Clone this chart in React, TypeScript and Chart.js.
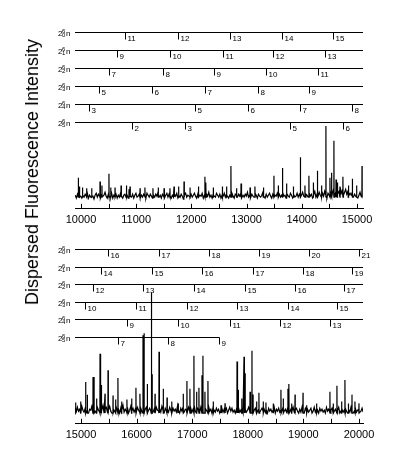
import React, { useEffect, useRef } from 'react';
import { Chart, registerables } from 'chart.js';
Chart.register(...registerables);

const FONT = '"Liberation Sans", Arial, sans-serif';

// ---------- axes ----------
const topRange = [9891, 15109];
const botRange = [14892, 20072];
const topTicks = [10000, 10500, 11000, 11500, 12000, 12500, 13000, 13500, 14000, 14500, 15000];
const botTicks = [15000, 15500, 16000, 16500, 17000, 17500, 18000, 18500, 19000, 19500, 20000];
const yTitle = 'Dispersed Fluorescence Intensity';

// ---------- spectrum (wavenumber / intensity) ----------
const topNoiseStart = 9895;
const topNoiseStep = 20;
const topNoise = [
  2, -1, 3, 0, 4, 1, -1, 2, 0, 3,
  1, 4, -1, 2, 0, 3, 1, -2, 2, 4,
  0, 3, 1, -1, 3, 0, 2, 5, 1, -1,
  3, 1, 0, 4, -1, 2, 1, 3, -1, 2,
  0, 4, 1, -1, 2, 3, 0, 2, -1, 3,
  1, 0, 3, -1, 2, 4, 0, 1, 3, -1,
  2, 0, 3, 1, -1, 4, 2, 0, 3, 1,
  -1, 2, 0, 3, 1, 5, 0, 2, -1, 3,
  1, -1, 2, 4, 0, 3, 1, -1, 2, 0,
  3, 1, 4, -1, 2, 0, 3, 1, -2, 2,
  4, 0, 2, 1, -1, 3, 0, 2, 4, 1,
  -1, 3, 0, 2, 1, 4, -1, 2, 0, 3,
  1, 5, 0, 2, -1, 3, 1, 0, 4, 2,
  0, 3, -1, 2, 1, 4, 0, 3, 1, -1,
  2, 0, 4, 1, -1, 3, 2, 0, 3, 1,
  4, -1, 2, 0, 3, 1, 5, 0, 2, -1,
  3, 1, 0, 4, 2, -1, 3, 1, 0, 2,
  5, 1, -1, 3, 0, 2, 4, 1, -1, 3,
  0, 2, 1, 4, -1, 3, 0, 2, 5, 1,
  2, -1, 3, 1, 0, 4, 2, -1, 3, 0,
  1, 4, 0, 3, -1, 2, 5, 1, 0, 3,
  2, 0, 4, 1, 3, -1, 2, 6, 0, 3,
  1, 5, 2, 0, 4, 1, 6, 2, -1, 4,
  2, 6, 1, 4, 8, 2, 5, 9, 3, 6,
  10, 4, 7, 2, 5, 8, 3, 6, 1, 4,
  2, 5, 0, 3, 1, 4, -1, 2, 5, 1,
  3,
];
const topPeakX = [
  9951, 9973, 10024, 10103, 10194, 10344, 10380, 10507, 10540, 10616, 10725, 10824, 10870, 10888,
  11069, 11159, 11304, 11401, 11504, 11612, 11685, 11766, 11866, 11975, 12126, 12246, 12264,
  12398, 12563, 12639, 12717, 12820, 12899, 13062, 13152, 13303, 13496, 13575, 13650, 13726,
  13846, 13976, 14058, 14130, 14208, 14284, 14360, 14438, 14511, 14541, 14583, 14620, 14643,
  14692, 14746, 14843, 14918, 14994, 15091,
];
const topPeakY = [
  20, 11, 10, 9, 9, 16, 12, 24, 10, 10, 12, 12, 8, 11,
  9, 10, 9, 10, 9, 9, 11, 11, 16, 10, 11, 21, 15,
  10, 11, 11, 32, 9, 14, 10, 11, 10, 22, 12, 30, 14,
  11, 41, 12, 22, 15, 27, 12, 73, 20, 25, 58, 18, 15,
  11, 21, 12, 19, 12, 32,
];

const botNoiseStart = 14895;
const botNoiseStep = 20;
const botNoise = [
  5, 1, 6, 2, 4, 0, 7, 3, 1, 5,
  2, 6, 0, 4, 3, 7, 1, 5, 2, 0,
  6, 3, 1, 5, 2, 8, 0, 4, 6, 1,
  3, 7, 2, 0, 5, 3, 1, 6, 2, 4,
  0, 5, 3, 8, 1, 4, 2, 6, 0, 3,
  7, 2, 5, 1, 4, 0, 6, 3, 1, 5,
  2, 8, 0, 4, 6, 1, 3, 5, 2, 7,
  1, 4, 0, 6, 3, 2, 5, 1, 7, 3,
  0, 5, 2, 4, 1, 6, 3, 0, 5, 2,
  4, 1, 7, 3, 0, 5, 2, 6, 1, 4,
  3, 0, 6, 2, 5, 1, 4, 8, 2, 0,
  5, 3, 1, 6, 2, 4, 0, 5, 3, 1,
  7, 2, 4, 0, 6, 3, 1, 5, 2, 4,
  0, 3, 6, 1, 4, 2, 5, 0, 3, 6,
  2, 5, 1, 3, 0, 4, 2, 6, 1, 3,
  5, 0, 2, 4, 1, 3, 6, 2, 0, 4,
  1, 3, 5, 0, 2, 4, 1, 3, 5, 2,
  4, 1, 3, 0, 5, 2, 4, 1, 3, 6,
  0, 4, 2, 5, 1, 3, 0, 6, 2, 4,
  1, 5, 3, 0, 4, 2, 6, 1, 3, 5,
  2, 0, 4, 1, 6, 3, 0, 5, 2, 4,
  1, 3, 5, 0, 2, 6, 1, 4, 3, 0,
  5, 2, 4, 1, 3, 0, 6, 2, 4, 1,
  3, 5, 0, 2, 4, 1, 3, 6, 0, 2,
  4, 1, 3, 5, 2, 0, 4, 1, 6, 3,
  0, 2, 5, 1, 3, 4, 0, 2, 5, 1,
];
const botPeakX = [
  14905, 14995, 15085, 15114, 15216, 15235, 15282, 15342, 15360, 15432, 15486, 15576, 15624,
  15665, 15731, 15827, 15911, 15989, 16061, 16115, 16135, 16193, 16264, 16280, 16331, 16403,
  16481, 16547, 16631, 16745, 16840, 16906, 16960, 17032, 17081, 17122, 17176, 17194, 17230,
  17284, 17380, 17518, 17590, 17806, 17824, 17890, 17932, 17950, 18040, 18075, 18094, 18160,
  18201, 18279, 18327, 18459, 18597, 18639, 18723, 18741, 18789, 18849, 18993, 19059, 19239,
  19478, 19538, 19604, 19688, 19748, 19808, 19874, 19928, 20000,
];
const botPeakY = [
  11, 12, 32, 19, 37, 37, 15, 61, 29, 20, 44, 18, 14,
  36, 12, 14, 15, 26, 20, 80, 82, 30, 124, 40, 20, 63,
  25, 16, 12, 10, 20, 33, 25, 59, 22, 26, 39, 59, 22,
  33, 12, 8, 10, 53, 24, 15, 58, 41, 22, 64, 19, 12,
  21, 12, 11, 10, 24, 15, 25, 30, 10, 19, 21, 8, 10,
  22, 10, 28, 12, 34, 10, 19, 12, 10,
];

// ---------- progression ladders ----------
const ladderSubs = [0, 1, 2, 3, 4, 5];
const topLadderPos = [
  [10797, 11757, 12699, 13641, 14565],
  [10652, 11612, 12572, 13478, 14420],
  [10507, 11486, 12409, 13351, 14293],
  [10326, 11286, 12246, 13207, 14130],
  [10145, 12065, 13025, 13967, 14909],
  [10924, 11884, 13786, 14746],
];
const topLadderLab = [[11, 12, 13, 14, 15], [9, 10, 11, 12, 13], [7, 8, 9, 10, 11], [5, 6, 7, 8, 9], [3, 5, 6, 7, 8], [2, 3, 5, 6]];
const topLadderEnd = [null, null, null, null, null, null];
const botLadderPos = [
  [15486, 16403, 17302, 18201, 19101, 20000],
  [15360, 16277, 17176, 18094, 18993, 19874],
  [15216, 16115, 17032, 17950, 18849, 19730],
  [15072, 15989, 16906, 17806, 18723, 19604],
  [15827, 16745, 17680, 18579, 19478],
  [15665, 16565, 17482],
];
const botLadderLab = [[16, 17, 18, 19, 20, 21], [14, 15, 16, 17, 18, 19], [12, 13, 14, 15, 16, 17], [10, 11, 12, 13, 14, 15], [9, 10, 11, 12, 13], [7, 8, 9]];
const botLadderEnd = [null, null, null, null, null, 17482];

// stick peaks: each peak rises from the baseline right at its own wavenumber
function buildSeries(start: number, step: number, noise: number[], px: number[], py: number[]) {
  const pts = noise.map((v, i) => ({ x: start + i * step, y: v }));
  px.forEach((x, i) => {
    pts.push({ x: x - 2, y: 0 });
    pts.push({ x, y: py[i] });
    pts.push({ x: x + 2, y: 0 });
  });
  pts.sort((a, b) => a.x - b.x);
  return pts;
}

function makeLadder(pos: number[][], lab: number[][], ends: (number | null)[], firstRow: number, gap: number) {
  return {
    id: 'ladder',
    afterDatasetsDraw(chart: any) {
      const { ctx, chartArea } = chart;
      const xs = chart.scales.x;
      ctx.save();
      ctx.strokeStyle = '#000';
      ctx.fillStyle = '#000';
      ctx.lineWidth = 1;
      ctx.textAlign = 'left';
      ctx.textBaseline = 'alphabetic';
      pos.forEach((row, i) => {
        const y = Math.round(chartArea.top + firstRow + i * gap) + 0.5;
        const x0 = chartArea.left;
        const e = ends[i];
        const x1 = e != null ? Math.round(xs.getPixelForValue(e)) + 0.5 : chartArea.right;
        ctx.beginPath();
        ctx.moveTo(x0, y);
        ctx.lineTo(x1, y);
        ctx.stroke();
        ctx.font = `8px ${FONT}`;
        ctx.fillText('2', x0 - 17, y + 3);
        ctx.fillText('n', x0 - 9, y + 3);
        ctx.font = `6px ${FONT}`;
        ctx.fillText('6', x0 - 13, y);
        ctx.fillText(String(ladderSubs[i]), x0 - 13, y + 4);
        ctx.font = `8px ${FONT}`;
        row.forEach((v, k) => {
          const p = Math.round(xs.getPixelForValue(v)) + 0.5;
          ctx.beginPath();
          ctx.moveTo(p, y);
          ctx.lineTo(p, y + 7);
          ctx.stroke();
          ctx.fillText(String(lab[i][k]), p + 2, y + 8);
        });
      });
      ctx.restore();
    },
  };
}

const innerTicks = {
  id: 'innerTicks',
  afterDraw(chart: any) {
    const { ctx, chartArea } = chart;
    const xs = chart.scales.x;
    ctx.save();
    ctx.strokeStyle = '#000';
    ctx.lineWidth = 1;
    xs.ticks.forEach((t: any) => {
      const p = Math.round(xs.getPixelForValue(t.value)) + 0.5;
      ctx.beginPath();
      ctx.moveTo(p, chartArea.bottom);
      ctx.lineTo(p, chartArea.bottom - 5);
      ctx.stroke();
    });
    ctx.restore();
  },
};

function makeConfig(range: number[], ticks: number[], yMin: number, yMax: number, pad: any, pts: any[], ladder: any): any {
  return {
    type: 'line',
    data: {
      datasets: [
        { data: pts, borderColor: '#000', borderWidth: 1.2, pointRadius: 0, tension: 0, fill: false },
      ],
    },
    options: {
      animation: false,
      responsive: false,
      events: [],
      layout: { padding: pad },
      plugins: { legend: { display: false }, tooltip: { enabled: false } },
      scales: {
        x: {
          type: 'linear',
          min: range[0],
          max: range[1],
          afterBuildTicks: (s: any) => {
            s.ticks = ticks.map((v) => ({ value: v }));
          },
          grid: { display: false, drawTicks: false },
          border: { display: true, color: '#000', width: 1 },
          ticks: {
            autoSkip: false,
            maxRotation: 0,
            padding: 5,
            color: '#000',
            font: { family: FONT, size: 11 },
            callback: (v: number) => (v % 1000 === 0 ? String(v) : ''),
          },
        },
        y: { type: 'linear', display: false, min: yMin, max: yMax },
      },
    },
    plugins: [ladder, innerTicks],
  };
}

export default function App() {
  const topRef = useRef<HTMLCanvasElement>(null);
  const botRef = useRef<HTMLCanvasElement>(null);
  useEffect(() => {
    const topPts = buildSeries(topNoiseStart, topNoiseStep, topNoise, topPeakX, topPeakY);
    const botPts = buildSeries(botNoiseStart, botNoiseStep, botNoise, botPeakX, botPeakY);
    const c1 = new Chart(
      topRef.current as HTMLCanvasElement,
      makeConfig(topRange, topTicks, -12, 182, { left: 75, right: 36, top: 20, bottom: 5 }, topPts,
        makeLadder(topLadderPos, topLadderLab, topLadderEnd, 12, 17.9))
    );
    const c2 = new Chart(
      botRef.current as HTMLCanvasElement,
      makeConfig(botRange, botTicks, -11, 178, { left: 75, right: 36, top: 3, bottom: 27 }, botPts,
        makeLadder(botLadderPos, botLadderLab, botLadderEnd, 9, 17.6))
    );
    return () => {
      c1.destroy();
      c2.destroy();
    };
  }, []);
  return (
    <div style={{ position: 'fixed', left: 0, top: 0, width: 399, height: 474, background: '#fff', overflow: 'hidden' }}>
      <canvas ref={topRef} width={399} height={237} style={{ position: 'absolute', left: 0, top: 0, width: 399, height: 237 }} />
      <canvas ref={botRef} width={399} height={237} style={{ position: 'absolute', left: 0, top: 237, width: 399, height: 237 }} />
      <div
        style={{
          position: 'absolute',
          left: 32,
          top: 172,
          transform: 'translate(-50%, -50%) rotate(-90deg)',
          whiteSpace: 'nowrap',
          fontFamily: FONT,
          fontSize: 18,
          lineHeight: '18px',
          color: '#000',
        }}
      >
        {yTitle}
      </div>
    </div>
  );
}
